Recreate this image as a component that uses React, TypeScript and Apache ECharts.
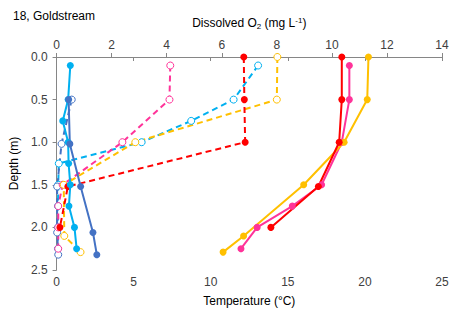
import React, { useEffect, useRef } from "react";
import * as echarts from "echarts";

// Depths (m)
const lbDepthT = [0.1, 0.5, 0.75, 1.0, 1.25, 1.5, 1.75, 2.0, 2.25];
const lbTemp = [0.89, 0.75, 0.4, 0.75, 0.78, 0.89, 0.8, 1.16, 1.3];
const lbDO = [7.32, 6.43, 4.89, 3.09, 0.08, 0.06, 0.05, 0.05, 0.05];

const dbDepth = [0.5, 1.02, 1.52, 2.06, 2.32];
const dbTemp = [0.78, 0.86, 1.56, 2.36, 2.61];
const dbDO = [0.55, 0.18, 0.02, 0.02, 0.06];

const rdDepth = [0.0, 0.5, 1.0, 1.52, 2.0];
const rdTemp = [18.5, 18.5, 18.33, 16.98, 13.9];
const rdDO = [6.8, 6.82, 6.85, 0.41, 0.12];

const pkDepth = [0.1, 0.5, 1.0, 1.5, 1.75, 2.0, 2.25];
const pkTemp = [18.99, 18.99, 18.5, 17.19, 15.29, 13.01, 11.96];
const pkDO = [4.13, 4.1, 2.39, 0.22, 0.06, 0.06, 0.06];

const orDepth = [0.0, 0.5, 1.0, 1.5, 2.1, 2.29];
const orTemp = [20.23, 20.15, 18.65, 16.03, 12.13, 10.8];
const orDO = [8.02, 8.0, 2.86, 0.26, 0.28, 0.87];

const C_LB = "#00B0F0";
const C_DB = "#4472C4";
const C_RD = "#FF0000";
const C_PK = "#FF3399";
const C_OR = "#FFC000";

const FONT = "Liberation Sans, Arial, sans-serif";

function pairs(xs: number[], ys: number[]) {
  return xs.map((x, i) => [x, ys[i]]);
}

export default function App() {
  const ref = useRef<HTMLDivElement>(null);
  useEffect(() => {
    document.body.style.margin = "0";
    if (!ref.current) return;
    const chart = echarts.init(ref.current, null, { renderer: "svg" });
    const axisLine = { show: true, lineStyle: { color: "#868686", width: 1 } };
    const axisTick = { show: true, inside: false, length: 4, lineStyle: { color: "#868686" } };
    const label = { color: "#404040", fontSize: 12, fontFamily: FONT };

    const tempSeries = (name: string, color: string, xs: number[], ds: number[]) => ({
      name,
      type: "line",
      xAxisIndex: 0,
      yAxisIndex: 0,
      data: pairs(xs, ds),
      symbol: "circle",
      symbolSize: 7,
      itemStyle: { color },
      lineStyle: { color, width: 2 },
      z: 3,
    });
    const doSeries = (name: string, color: string, xs: number[], ds: number[], filled = false) => ({
      name,
      type: "line",
      xAxisIndex: 1,
      yAxisIndex: 0,
      data: pairs(xs, ds),
      symbol: "circle",
      symbolSize: 7,
      itemStyle: filled
        ? { color }
        : { color: "#ffffff", borderColor: color, borderWidth: 1 },
      lineStyle: { color, width: 2, type: [6, 4] },
      z: 2,
    });

    chart.setOption({
      animation: false,
      backgroundColor: "#ffffff",
      title: {
        text: "18, Goldstream",
        left: 8,
        top: 5,
        textStyle: { fontSize: 12, fontWeight: "normal", color: "#000", fontFamily: FONT },
      },
      grid: { left: 48, right: 14, top: 57, bottom: 44 },
      xAxis: [
        {
          type: "value",
          position: "bottom",
          min: 0,
          max: 25,
          interval: 5,
          name: "Temperature (°C)",
          nameLocation: "middle",
          nameGap: 25,
          nameTextStyle: { fontSize: 12, color: "#000", fontFamily: FONT },
          axisLine,
          axisTick,
          axisLabel: { ...label, margin: 6 },
          splitLine: { show: false },
        },
        {
          type: "value",
          position: "top",
          min: 0,
          max: 14,
          interval: 2,
          name: "Dissolved O{sub|2} (mg L{sup|-1})",
          nameLocation: "middle",
          nameGap: 27,
          nameTextStyle: {
            fontSize: 12,
            color: "#000",
            fontFamily: FONT,
            lineHeight: 14,
            rich: {
              sub: { fontSize: 8, verticalAlign: "bottom", lineHeight: 14, fontFamily: FONT, color: "#000", padding: [4, 0, 0, 0] },
              sup: { fontSize: 8, verticalAlign: "top", lineHeight: 14, fontFamily: FONT, color: "#000", padding: [0, 0, 4, 0] },
            },
          },
          axisLine,
          axisTick,
          axisLabel: { ...label, margin: 6 },
          splitLine: { show: false },
        },
      ],
      yAxis: [
        {
          type: "value",
          inverse: true,
          min: 0,
          max: 2.5,
          interval: 0.5,
          name: "Depth (m)",
          nameLocation: "middle",
          nameGap: 32,
          nameRotate: 90,
          nameTextStyle: { fontSize: 12, color: "#000", fontFamily: FONT },
          axisLine,
          axisTick,
          axisLabel: { ...label, margin: 9, formatter: (v: number) => v.toFixed(1) },
          splitLine: { show: false },
        },
      ],
      series: [
        doSeries("DO light blue", C_LB, lbDO, lbDepthT),
        doSeries("DO dark blue", C_DB, dbDO, dbDepth),
        doSeries("DO pink", C_PK, pkDO, pkDepth),
        doSeries("DO orange", C_OR, orDO, orDepth),
        doSeries("DO red", C_RD, rdDO, rdDepth, true),
        tempSeries("T light blue", C_LB, lbTemp, lbDepthT),
        tempSeries("T dark blue", C_DB, dbTemp, dbDepth),
        tempSeries("T pink", C_PK, pkTemp, pkDepth),
        tempSeries("T orange", C_OR, orTemp, orDepth),
        tempSeries("T red", C_RD, rdTemp, rdDepth),
      ],
    });
    return () => chart.dispose();
  }, []);
  return <div ref={ref} style={{ width: 456, height: 314 }} />;
}
